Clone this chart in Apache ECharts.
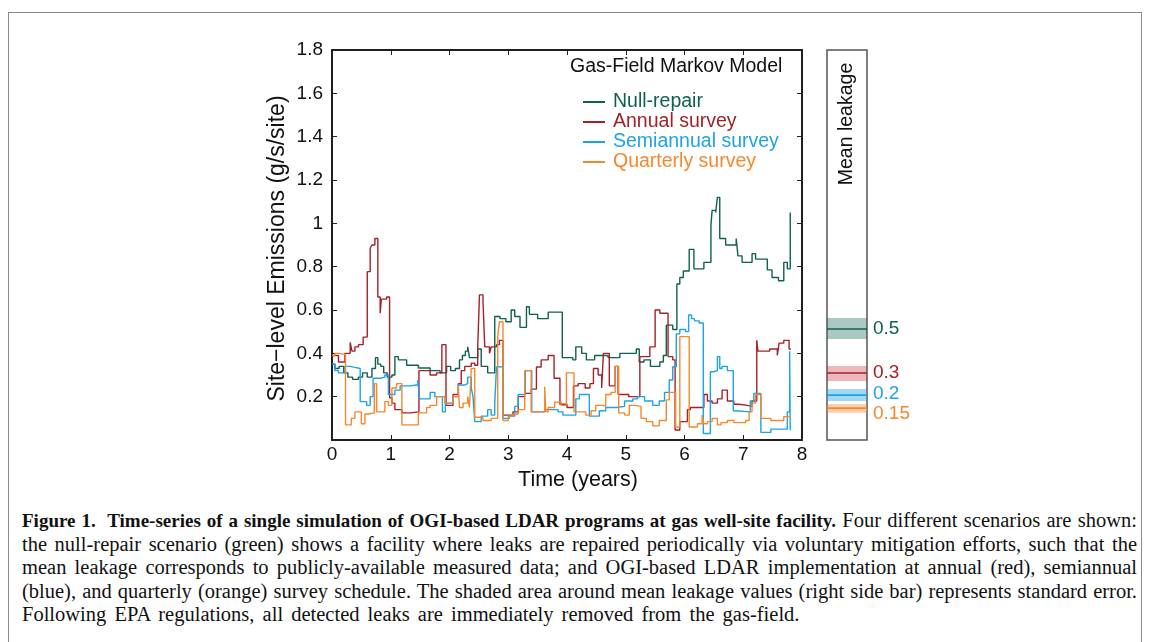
<!DOCTYPE html>
<html>
<head>
<meta charset="utf-8">
<script src="https://cdn.jsdelivr.net/npm/echarts@6/dist/echarts.min.js"></script>
<style>
  html,body{margin:0;padding:0;width:1152px;height:642px;overflow:hidden;background:#fff;}
  #frame{position:absolute;left:8px;top:12px;width:1134px;height:700px;border:1.5px solid #8a8a8a;border-bottom:none;box-sizing:border-box;}
  #chart{position:absolute;left:0;top:0;width:1152px;height:500px;}
  #cap{position:absolute;left:22px;top:509px;width:1115px;font-family:'Liberation Serif','DejaVu Serif',serif;font-size:20.5px;line-height:23.5px;color:#111;}
  #cap .l{display:block;white-space:nowrap;text-align:justify;text-align-last:justify;}
  #cap .last{display:block;white-space:nowrap;text-align:left;word-spacing:3px;}
  #cap b{font-size:19px;}
  #meas{position:absolute;left:0;top:700px;visibility:hidden;white-space:nowrap;font-family:'Liberation Serif','DejaVu Serif',serif;font-size:20.5px;}
  #meas b{font-size:19px;}
</style>
</head>
<body>
<div id="frame"></div>
<div id="chart"></div>
<div id="cap">
<span class="l"><b>Figure 1.&nbsp; Time-series of a single simulation of OGI-based LDAR programs at gas well-site facility.</b> Four different scenarios are shown:</span>
<span class="l">the null-repair scenario (green) shows a facility where leaks are repaired periodically via voluntary mitigation efforts, such that the</span>
<span class="l">mean leakage corresponds to publicly-available measured data; and OGI-based LDAR implementation at annual (red), semiannual</span>
<span class="l">(blue), and quarterly (orange) survey schedule. The shaded area around mean leakage values (right side bar) represents standard error.</span>
<span class="last">Following EPA regulations, all detected leaks are immediately removed from the gas-field.</span>
</div>
<span id="meas"></span>
<script>
// ---- data: [time (years), emissions (g/s/site)], value holds until next time ----
const nullRepair = [[0,0.35],[0.05,0.33],[0.12,0.34],[0.2,0.31],[0.27,0.29],[0.35,0.28],[0.45,0.29],[0.52,0.31],[0.6,0.29],[0.68,0.33],[0.74,0.38],[0.78,0.35],[0.83,0.34],[0.88,0.31],[0.94,0.29],[1.02,0.3],[1.07,0.385],[1.13,0.37],[1.27,0.345],[1.47,0.332],[1.67,0.32],[1.84,0.31],[1.95,0.34],[2.02,0.32],[2.1,0.33],[2.17,0.37],[2.22,0.39],[2.27,0.41],[2.31,0.43],[2.34,0.38],[2.48,0.42],[2.54,0.34],[2.65,0.31],[2.77,0.57],[2.86,0.56],[2.96,0.546],[3.05,0.6],[3.11,0.57],[3.2,0.52],[3.31,0.615],[3.36,0.58],[3.5,0.56],[3.68,0.59],[3.92,0.38],[4.1,0.37],[4.15,0.43],[4.25,0.4],[4.33,0.37],[4.47,0.39],[4.7,0.38],[4.9,0.4],[5.18,0.42],[5.23,0.36],[5.31,0.37],[5.42,0.34],[5.58,0.36],[5.64,0.39],[5.69,0.53],[5.8,0.51],[5.87,0.72],[5.92,0.75],[5.98,0.78],[6.08,0.88],[6.16,0.79],[6.33,0.82],[6.45,0.99],[6.47,1.06],[6.53,1.05],[6.56,1.12],[6.6,0.93],[6.7,0.9],[6.88,0.93],[6.91,0.85],[6.98,0.82],[7.15,0.86],[7.21,0.835],[7.41,0.785],[7.49,0.75],[7.6,0.735],[7.69,0.82],[7.75,0.79],[7.8,1.05],[7.81,1.05]];
const annualSurvey = [[0,0.39],[0.11,0.36],[0.22,0.4],[0.31,0.45],[0.34,0.41],[0.39,0.43],[0.45,0.44],[0.53,0.475],[0.6,0.777],[0.65,0.885],[0.68,0.9],[0.73,0.93],[0.78,0.66],[0.82,0.585],[0.84,0.65],[0.93,0.66],[0.98,0.195],[1.02,0.17],[1.07,0.14],[1.19,0.125],[1.33,0.13],[1.48,0.32],[1.67,0.3],[1.78,0.31],[1.87,0.44],[1.94,0.16],[2.06,0.21],[2.15,0.26],[2.2,0.32],[2.26,0.34],[2.37,0.355],[2.43,0.345],[2.48,0.425],[2.51,0.67],[2.57,0.64],[2.6,0.43],[2.68,0.4],[2.71,0.43],[2.8,0.44],[2.85,0.46],[2.91,0.115],[3.08,0.13],[3.17,0.2],[3.28,0.215],[3.39,0.235],[3.48,0.337],[3.56,0.37],[3.68,0.39],[3.78,0.285],[3.88,0.165],[4.0,0.15],[4.11,0.25],[4.19,0.26],[4.31,0.24],[4.39,0.26],[4.45,0.33],[4.53,0.3],[4.59,0.24],[4.62,0.4],[4.72,0.25],[4.82,0.34],[4.87,0.21],[5.05,0.2],[5.24,0.385],[5.41,0.43],[5.5,0.6],[5.58,0.585],[5.72,0.385],[5.8,0.37],[5.84,0.046],[5.92,0.085],[6.05,0.14],[6.1,0.15],[6.33,0.21],[6.39,0.18],[6.47,0.17],[6.56,0.19],[6.64,0.23],[6.73,0.18],[6.84,0.165],[6.93,0.16],[7.07,0.155],[7.15,0.18],[7.23,0.46],[7.25,0.41],[7.45,0.42],[7.58,0.39],[7.61,0.447],[7.69,0.46],[7.78,0.42],[7.81,0.42]];
const semiannualSurvey = [[0,0.35],[0.05,0.32],[0.11,0.31],[0.22,0.34],[0.31,0.335],[0.39,0.33],[0.48,0.177],[0.59,0.16],[0.65,0.2],[0.7,0.285],[0.82,0.29],[0.9,0.3],[0.96,0.21],[1.07,0.23],[1.16,0.25],[1.33,0.255],[1.46,0.277],[1.49,0.19],[1.67,0.22],[1.75,0.2],[1.88,0.13],[1.93,0.17],[2.06,0.2],[2.15,0.254],[2.26,0.26],[2.31,0.29],[2.37,0.24],[2.4,0.2],[2.43,0.085],[2.54,0.11],[2.65,0.14],[2.71,0.115],[2.77,0.17],[2.8,0.338],[2.91,0.1],[3.02,0.11],[3.11,0.155],[3.17,0.21],[3.29,0.32],[3.4,0.13],[3.62,0.14],[3.85,0.13],[3.93,0.115],[4.15,0.19],[4.21,0.21],[4.38,0.11],[4.55,0.135],[4.66,0.15],[4.84,0.155],[4.98,0.18],[5.12,0.19],[5.2,0.2],[5.32,0.18],[5.46,0.16],[5.57,0.18],[5.66,0.22],[5.74,0.277],[5.8,0.338],[5.86,0.49],[5.92,0.51],[6.02,0.5],[6.07,0.577],[6.12,0.56],[6.17,0.55],[6.25,0.54],[6.32,0.03],[6.44,0.315],[6.5,0.32],[6.56,0.385],[6.6,0.33],[6.64,0.34],[6.73,0.32],[6.83,0.135],[6.87,0.13],[7.12,0.18],[7.18,0.215],[7.3,0.035],[7.47,0.05],[7.75,0.13],[7.79,0.41],[7.8,0.045],[7.81,0.045]];
const quarterlySurvey = [[0,0.39],[0.05,0.4],[0.11,0.395],[0.23,0.07],[0.33,0.1],[0.39,0.13],[0.5,0.075],[0.56,0.12],[0.62,0.125],[0.72,0.26],[0.76,0.13],[0.9,0.177],[0.96,0.16],[1.02,0.24],[1.1,0.26],[1.19,0.07],[1.47,0.125],[1.61,0.15],[1.67,0.16],[1.78,0.2],[1.92,0.17],[2.06,0.2],[2.15,0.25],[2.17,0.15],[2.23,0.17],[2.31,0.2],[2.34,0.15],[2.37,0.33],[2.43,0.105],[2.57,0.09],[2.71,0.1],[2.82,0.477],[2.85,0.546],[2.91,0.09],[3.0,0.11],[3.08,0.12],[3.17,0.14],[3.28,0.32],[3.39,0.13],[3.62,0.246],[3.64,0.13],[3.68,0.15],[3.79,0.175],[3.9,0.16],[3.99,0.31],[4.12,0.13],[4.32,0.115],[4.41,0.135],[4.49,0.16],[4.61,0.155],[4.66,0.21],[4.75,0.22],[4.82,0.34],[4.88,0.125],[4.98,0.115],[5.06,0.16],[5.15,0.155],[5.26,0.1],[5.35,0.085],[5.46,0.065],[5.57,0.09],[5.69,0.185],[5.74,0.22],[5.85,0.06],[5.92,0.477],[6.08,0.06],[6.22,0.075],[6.3,0.115],[6.33,0.075],[6.39,0.085],[6.47,0.1],[6.56,0.07],[6.62,0.08],[6.73,0.09],[6.84,0.08],[7.04,0.09],[7.1,0.13],[7.15,0.17],[7.21,0.21],[7.3,0.1],[7.47,0.09],[7.69,0.108],[7.81,0.108]];

const seriesNames = ['Null-repair','Annual survey','Semiannual survey','Quarterly survey'];
const seriesColors = ['#0e6150','#a3222a','#1ea3e4','#f5882d'];
const bandColors = ['rgba(14,97,80,0.35)','rgba(200,40,50,0.33)','rgba(30,163,228,0.42)','rgba(245,136,45,0.4)'];
const meanValues = [0.512, 0.309, 0.207, 0.147];
const meanLow = [0.466, 0.272, 0.180, 0.126];
const meanHigh = [0.563, 0.342, 0.235, 0.166];
const meanLabels = ['0.5','0.3','0.2','0.15'];

// fit caption lines into the column width (shrink letter spacing only if a line overflows)
(function fitCaption(){
  const meas = document.getElementById('meas');
  const W = 1115;
  document.querySelectorAll('#cap .l').forEach(el=>{
    meas.innerHTML = el.innerHTML;
    const w = meas.getBoundingClientRect().width;
    if (w > W - 4) {
      const n = meas.textContent.length;
      el.style.letterSpacing = (-(w - W + 8) / n).toFixed(3) + 'px';
    }
  });
})();

const FONT = "'Liberation Sans', Arial, sans-serif";
const chart = echarts.init(document.getElementById('chart'), null, {renderer:'canvas'});
const allData = [nullRepair, annualSurvey, semiannualSurvey, quarterlySurvey];
const labelOffsets = [[0,0],[0,0],[0,-1],[0,6]];

const mainSeries = allData.map((d,i)=>({
  name: seriesNames[i], type:'line', step:'end', data:d, showSymbol:false, symbol:'none',
  xAxisIndex:0, yAxisIndex:0, lineStyle:{color:seriesColors[i], width:1.4}, itemStyle:{color:seriesColors[i]},
  animation:false, z: 2+i
}));
const sideSeries = meanValues.map((m,i)=>({
  name:'mean'+i, type:'line', data:[[0,m],[1,m]], showSymbol:false, symbol:'none',
  xAxisIndex:2, yAxisIndex:2, lineStyle:{color:seriesColors[i], width:1.6}, itemStyle:{color:seriesColors[i]},
  endLabel:{show:true, formatter:meanLabels[i], color:seriesColors[i], fontFamily:FONT, fontSize:19, distance:6, offset:labelOffsets[i]},
  markArea:{silent:true, itemStyle:{color:bandColors[i]}, data:[[{yAxis:meanLow[i]},{yAxis:meanHigh[i]}]]},
  animation:false
}));

const tick = {show:true, inside:true, length:5, lineStyle:{color:'#222', width:1}};
const line = {show:true, onZero:false, lineStyle:{color:'#111', width:1.5}};
const option = {
  animation:false,
  textStyle:{fontFamily:FONT},
  grid:[
    {left:332, top:50, width:470, height:390, show:true, borderColor:'#111', borderWidth:1.5, backgroundColor:'transparent'},
    {left:827, top:50, width:40, height:390, show:true, borderColor:'#555', borderWidth:1.5, backgroundColor:'transparent'}
  ],
  xAxis:[
    {type:'value', gridIndex:0, min:0, max:8, interval:1, position:'bottom',
     axisLine:line, axisTick:tick,
     splitLine:{show:false},
     axisLabel:{color:'#111', fontSize:19, fontFamily:FONT, margin:5},
     name:'Time (years)', nameLocation:'middle', nameGap:27,
     nameTextStyle:{color:'#111', fontSize:21.5, fontFamily:FONT, padding:[0,0,0,22]}},
    {type:'value', gridIndex:0, min:0, max:8, interval:1, position:'top',
     axisLine:line, axisTick:tick,
     splitLine:{show:false}, axisLabel:{show:false}},
    {type:'value', gridIndex:1, min:0, max:1, show:false, axisLine:{onZero:false}}
  ],
  yAxis:[
    {type:'value', gridIndex:0, min:0, max:1.8, interval:0.2, position:'left',
     axisLine:line, axisTick:tick,
     splitLine:{show:false},
     axisLabel:{color:'#111', fontSize:19, fontFamily:FONT, margin:9, formatter:v=> (Math.abs(v)<1e-9 ? '' : String(+v.toFixed(1)))},
     name:'Site\u2212level Emissions (g/s/site)', nameLocation:'middle', nameGap:43, nameRotate:90,
     nameTextStyle:{color:'#111', fontSize:23, fontFamily:FONT, padding:[0,7,0,0]}},
    {type:'value', gridIndex:0, min:0, max:1.8, interval:0.2, position:'right',
     axisLine:line, axisTick:tick,
     splitLine:{show:false}, axisLabel:{show:false}},
    {type:'value', gridIndex:1, min:0, max:1.8, show:false, axisLine:{onZero:false}}
  ],
  legend:{
    orient:'vertical', left:583, top:92, padding:0, itemWidth:22, itemHeight:2, itemGap:0, icon:'rect',
    textStyle:{fontSize:19.5, fontFamily:FONT, lineHeight:19.3, padding:[0,0,0,3]},
    data: seriesNames.map((n,i)=>({name:n, textStyle:{color:seriesColors[i]}})),
    selectedMode:false
  },
  graphic:[
    {type:'text', left:570, top:57, style:{text:'Gas-Field Markov Model', fill:'#111', font:"19.5px 'Liberation Sans', Arial, sans-serif"}},
    {type:'text', x:847, y:124, rotation:Math.PI/2, style:{text:'Mean leakage', fill:'#111', font:"19.5px 'Liberation Sans', Arial, sans-serif", textAlign:'center', textVerticalAlign:'middle'}}
  ],
  series: mainSeries.concat(sideSeries)
};
chart.setOption(option);
</script>
</body>
</html>
